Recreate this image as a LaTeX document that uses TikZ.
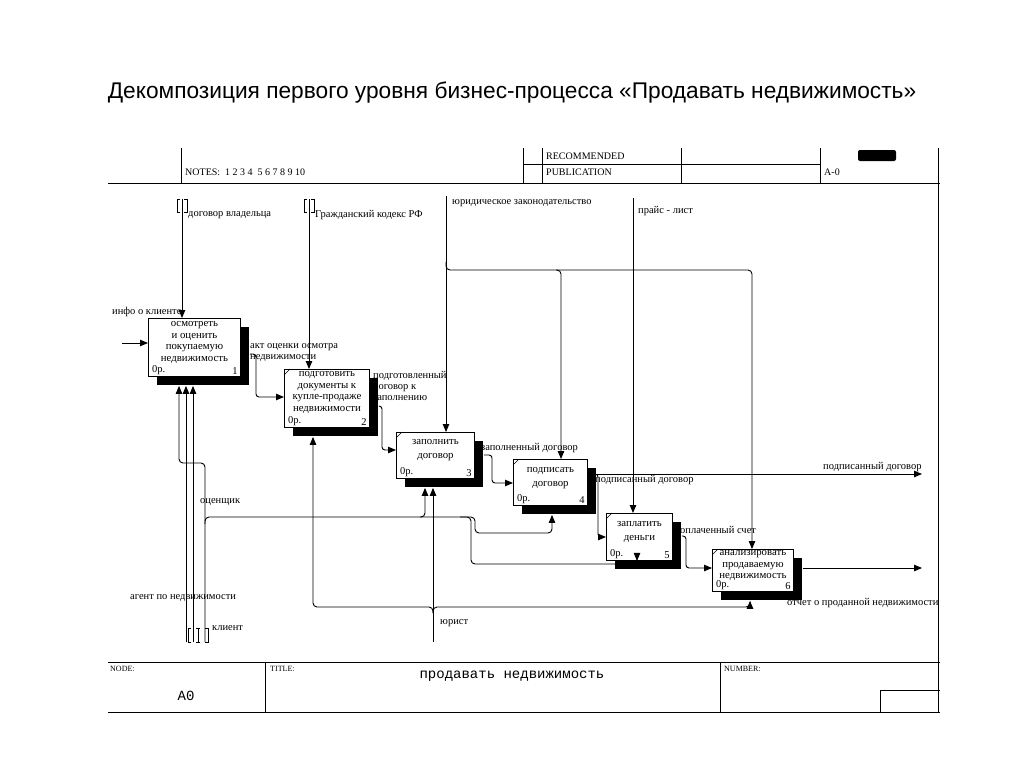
\documentclass[tikz,border=0pt]{standalone}
\usepackage{fontspec}
\setmainfont{Liberation Serif}
\newfontfamily\titlefont{Liberation Sans}
\newfontfamily\codefont{Liberation Mono}
\usepackage{tikz}
\usetikzlibrary{arrows.meta, positioning, calc, shadows}
\tikzset{
  procbox/.style={draw, fill=white, line width=0.9pt, anchor=north west, inner sep=0pt,
                  drop shadow={shadow xshift=9pt, shadow yshift=-9pt, fill=black, opacity=1}},
  boxtext/.style={align=center, inner sep=0pt, font=\fontsize{10.8}{11.5}\selectfont},
  tagtext/.style={inner sep=0pt, font=\fontsize{10.5}{11}\selectfont},
  lbl/.style={anchor=west, inner sep=0pt, font=\fontsize{10.5}{11}\selectfont},
  hdr/.style={anchor=west, inner sep=0pt, font=\fontsize{10}{11}\selectfont},
  ftr/.style={anchor=west, inner sep=0pt, font=\fontsize{8}{9}\selectfont},
  frame/.style={line width=0.9pt},
  arr/.style={-{Triangle[length=8pt,width=6.5pt]}, line width=0.9pt},
  tun/.style={line width=0.7pt},
}
\begin{document}
\begin{tikzpicture}[x=1pt, y=-1pt]
  \useasboundingbox (0,0) rectangle (1024,768);

  \node[font=\titlefont\fontsize{22.7}{26}\selectfont] (title) at (512,93)
    {Декомпозиция первого уровня бизнес-процесса «Продавать недвижимость»};

  % form frame
  \draw[frame] (181,148) -- (181,183);
  \draw[frame] (108,183) -- (940,183);
  \draw[frame] (523,148) -- (523,183);
  \draw[frame] (542,148) -- (542,183);
  \draw[frame] (681,148) -- (681,183);
  \draw[frame] (820,148) -- (820,183);
  \draw[frame] (523,164) -- (820,164);
  \draw[frame] (938,148) -- (938,712);
  \fill[rounded corners=2pt] (858,150) rectangle (896,161);
  \draw[frame] (108,662) -- (940,662);
  \draw[frame] (108,712) -- (940,712);
  \draw[frame] (265,662) -- (265,712);
  \draw[frame] (720,662) -- (720,712);
  \draw[frame] (880,690) -- (880,712);
  \draw[frame] (880,690) -- (940,690);

  \node[hdr] (notes) at (185,172) {NOTES:\ \ 1\ 2\ 3\ 4\ \ 5\ 6\ 7\ 8\ 9\ 10};
  \node[hdr] (recom) at (546,156) {RECOMMENDED};
  \node[hdr] (publ) at (546,172) {PUBLICATION};
  \node[hdr] (anum) at (824,172) {A-0};
  \node[ftr] (nodelbl) at (110,669) {NODE:};
  \node[ftr] (titlelbl) at (270,669) {TITLE:};
  \node[ftr] (numlbl) at (724,669) {NUMBER:};
  \node[font=\codefont\fontsize{14}{16}\selectfont] (nodeval) at (186,696) {A0};
  \node[font=\codefont\fontsize{14}{16}\selectfont] (titleval) at (512,676) {продавать недвижимость};

  % activity boxes
  \node[procbox, minimum width=92pt, minimum height=58pt] (a1) at (148,318) {};
  \node[procbox, minimum width=85pt, minimum height=58pt] (a2) at (284,369) {};
  \node[procbox, minimum width=78pt, minimum height=46pt] (a3) at (396,432) {};
  \node[procbox, minimum width=74pt, minimum height=46pt] (a4) at (513,459) {};
  \node[procbox, minimum width=66pt, minimum height=47pt] (a5) at (606,513) {};
  \node[procbox, minimum width=81pt, minimum height=42pt] (a6) at (712,549) {};
  \foreach \b in {a2,a3,a4,a5,a6}
    \draw[line width=0.6pt] (\b.north west) ++(0,6) -- ++(6,-6);

  \node[boxtext, below=3.5pt of a1.north] (a1t) {осмотреть\\и оценить\\покупаемую\\недвижимость};
  \node[boxtext, below=2.5pt of a2.north] (a2t) {подготовить\\документы к\\купле-продаже\\недвижимости};
  \node[boxtext, below=7.5pt of a3.north] (a3t) {заполнить\\[2pt]договор};
  \node[boxtext, below=8.5pt of a4.north] (a4t) {подписать\\[2pt]договор};
  \node[boxtext, below=8.5pt of a5.north] (a5t) {заплатить\\[2pt]деньги};
  \node[boxtext, below=1.5pt of a6.north] (a6t) {анализировать\\продаваемую\\недвижимость};
  \foreach \b/\n in {a1/1,a2/2,a3/3,a4/4,a5/5,a6/6} {
    \node[tagtext, anchor=south west] (\b o) at ([shift={(4,-2)}]\b.south west) {0р.};
    \node[tagtext, anchor=south east] (\b n) at ([shift={(-3,-2)}]\b.south east) {\n};
  }

  % controls
  \coordinate (dvtop) at (182,199);
  \coordinate (gktop) at (309,199);
  \coordinate (yztop) at (446,196);
  \coordinate (pltop) at (633,198);
  \draw[arr] (dvtop) -- (a1.north -| dvtop);
  \draw[arr] (gktop) -- (a2.north -| gktop);
  \draw[arr] (yztop) -- (a3.north -| yztop);
  \draw[arr] (pltop) -- (a5.north -| pltop);
  \draw[arr, rounded corners=4pt] (446,262) -- (446,270) -- (561,270) -- (a4.north -| 561,0);
  \draw[arr, rounded corners=4pt] (556,270) -- (752,270) -- (a6.north -| 752,0);
  \foreach \tx in {182,309} {
    \draw[tun] (\tx-2,199) -- (\tx-5,199) -- (\tx-5,212) -- (\tx-2,212);
    \draw[tun] (\tx+2,199) -- (\tx+5,199) -- (\tx+5,212) -- (\tx+2,212);
  }

  % input
  \coordinate (iktail) at (122,343);
  \draw[arr] (iktail) -- (a1.west |- iktail);

  % flows between boxes
  \draw[arr, rounded corners=3pt] ([xshift=9pt]a1.east |- 0,354) -- (256,354) -- (256,397) -- (a2.west |- 0,397);
  \draw[arr, rounded corners=3pt] ([xshift=9pt]a2.east |- 0,406) -- (382,406) -- (382,450) -- (a3.west |- 0,450);
  \draw[arr, rounded corners=3pt] ([xshift=9pt]a3.east |- 0,455) -- (492,455) -- (492,483) -- (a4.west |- 0,483);
  \coordinate (out1) at (922,474);
  \draw[arr] ([xshift=9pt]a4.east |- 0,474) -- (out1);
  \draw[arr, rounded corners=3pt] (592,474) -- (598,474) -- (598,537) -- (a5.west |- 0,537);
  \draw[arr, rounded corners=3pt] ([xshift=9pt]a5.east |- 0,536) -- (686,536) -- (686,568) -- (a6.west |- 0,568);
  \coordinate (out2) at (922,568);
  \draw[arr] ([xshift=9pt]a6.east |- 0,568) -- (out2);

  % mechanisms
  \coordinate (agbot) at (186,642);
  \coordinate (klbot) at (193,642);
  \coordinate (ocbot) at (205,642);
  \coordinate (yrbot) at (433,642);
  \draw[arr] (agbot) -- ([yshift=-9pt]a1.south -| agbot);
  \draw[arr] (klbot) -- ([yshift=-9pt]a1.south -| klbot);
  \draw[arr, rounded corners=4pt] (ocbot) -- (205,463) -- (179,463) -- ([yshift=-9pt]a1.south -| 179,0);
  \draw[arr, rounded corners=4pt] (205,524) -- (205,517) -| ([yshift=-9pt]a3.south -| 425,0);
  \draw[arr, rounded corners=4pt] (420,517) -- (475,517) -- (475,533) -- (552,533) -- ([yshift=-9pt]a4.south -| 552,0);
  \draw[arr, rounded corners=4pt] (460,517) -- (471,517) -- (471,564) -- (637,564) -- (a5.south -| 637,0);
  \draw[arr] (yrbot) -- ([yshift=-9pt]a3.south -| yrbot);
  \draw[arr, rounded corners=4pt] (433,613) -- (433,607) -- (313,607) -- ([yshift=-9pt]a2.south -| 313,0);
  \draw[arr, rounded corners=4pt] (433,613) -- (433,607) -- (750,607) -- ([yshift=-9pt]a6.south -| 750,0);
  \draw[tun] (191,628) -- (188,628) -- (188,642) -- (191,642);
  \draw[tun] (196,628) -- (200,628) (198,628) -- (198,642) (196,642) -- (200,642);
  \draw[tun] (205,628) -- (208,628) -- (208,642) -- (205,642);

  % arrow labels
  \node[lbl] (dvlbl) at (188,215) {договор владельца};
  \node[lbl] (gklbl) at (315,215) {Гражданский кодекс РФ};
  \node[lbl] (yzlbl) at (452,203) {юридическое законодательство};
  \node[lbl] (pllbl) at (638,211) {прайс - лист};
  \node[lbl] (iklbl) at (112,312) {инфо о клиенте};
  \node[lbl, anchor=north west, align=left] (aktlbl) at (250,343) {акт оценки осмотра\\недвижимости};
  \node[lbl, anchor=north west, align=left] (pdglbl) at (373,371) {подготовленный\\договор к\\заполнению};
  \node[lbl] (zdlbl) at (481,448) {заполненный договор};
  \node[lbl] (pd1lbl) at (595,480) {подписанный договор};
  \node[lbl] (pd2lbl) at (823,467) {подписанный договор};
  \node[lbl] (oslbl) at (680,530) {оплаченный счет};
  \node[lbl] (otlbl) at (787,603) {отчет о проданной недвижимости};
  \node[lbl] (oclbl) at (200,502) {оценщик};
  \node[lbl] (aglbl) at (130,598) {агент по недвижимости};
  \node[lbl] (kllbl) at (212,628) {клиент};
  \node[lbl] (yrlbl) at (440,623) {юрист};
\end{tikzpicture}
\end{document}
